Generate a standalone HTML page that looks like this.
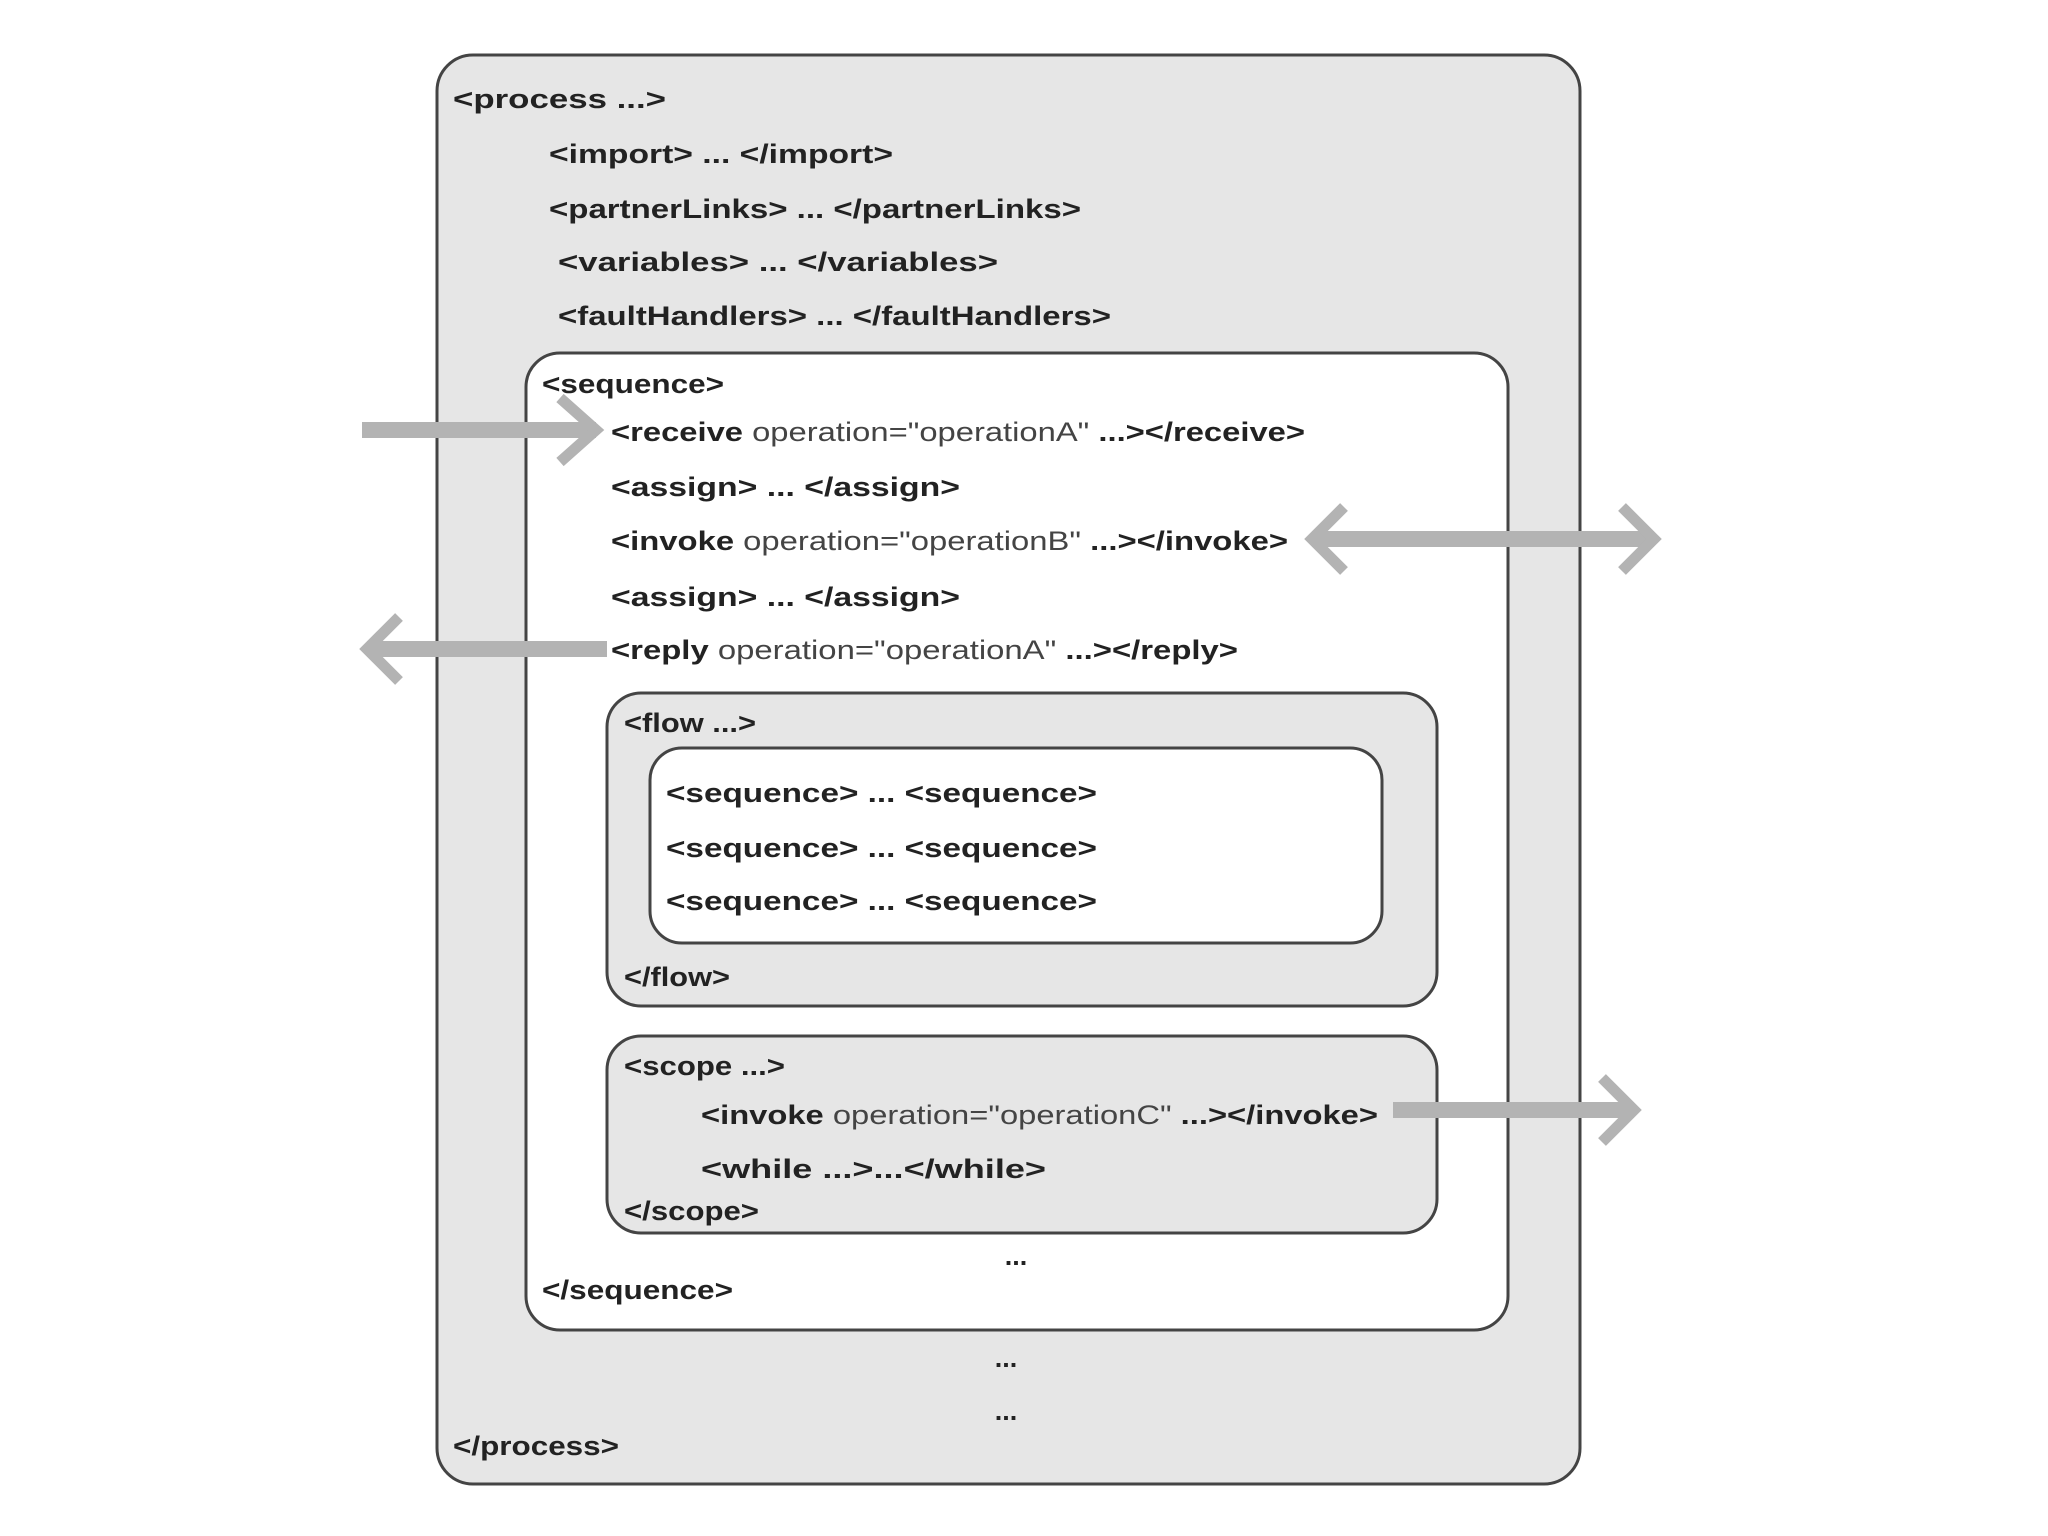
<!DOCTYPE html>
<html><head><meta charset="utf-8"><style>html,body{margin:0;padding:0;background:#fff}svg{display:block}</style></head>
<body>
<svg width="2048" height="1536" viewBox="0 0 2048 1536" xmlns="http://www.w3.org/2000/svg" font-family="Liberation Sans, Arial, sans-serif" font-size="27" font-weight="bold" fill="#222">
<rect x="437" y="55" width="1143" height="1429" rx="36" fill="#e6e6e6" stroke="#444" stroke-width="3"/>
<rect x="526" y="353" width="982" height="977" rx="34" fill="#fff" stroke="#444" stroke-width="3"/>
<rect x="607" y="693" width="830" height="313" rx="34" fill="#e6e6e6" stroke="#444" stroke-width="3"/>
<rect x="650" y="748" width="732" height="195" rx="32" fill="#fff" stroke="#444" stroke-width="3"/>
<rect x="607" y="1036" width="830" height="197" rx="34" fill="#e6e6e6" stroke="#444" stroke-width="3"/>

<g stroke="#b3b3b3" fill="none" stroke-linecap="butt">
<line x1="362" y1="430" x2="596" y2="430" stroke-width="16"/>
<polyline points="560,398 596,430 560,462" stroke-width="11"/>
<line x1="1312" y1="539" x2="1654" y2="539" stroke-width="16"/>
<polyline points="1344,507 1312,539 1344,571" stroke-width="11"/>
<polyline points="1622,507 1654,539 1622,571" stroke-width="11"/>
<line x1="607" y1="649" x2="367" y2="649" stroke-width="16"/>
<polyline points="399,617 367,649 399,681" stroke-width="11"/>
<line x1="1393" y1="1110" x2="1634" y2="1110" stroke-width="16"/>
<polyline points="1602,1078 1634,1110 1602,1142" stroke-width="11"/>
</g>

<g lengthAdjust="spacingAndGlyphs">
<text x="453" y="108" textLength="213" lengthAdjust="spacingAndGlyphs">&lt;process ...&gt;</text>
<text x="549" y="163" textLength="344" lengthAdjust="spacingAndGlyphs">&lt;import&gt; ... &lt;/import&gt;</text>
<text x="549" y="218" textLength="532" lengthAdjust="spacingAndGlyphs">&lt;partnerLinks&gt; ... &lt;/partnerLinks&gt;</text>
<text x="558" y="271" textLength="440" lengthAdjust="spacingAndGlyphs">&lt;variables&gt;  ...  &lt;/variables&gt;</text>
<text x="558" y="325" textLength="553" lengthAdjust="spacingAndGlyphs">&lt;faultHandlers&gt; ... &lt;/faultHandlers&gt;</text>
<text x="542" y="393" textLength="182" lengthAdjust="spacingAndGlyphs">&lt;sequence&gt;</text>
<text x="611" y="441" textLength="694" lengthAdjust="spacingAndGlyphs">&lt;receive <tspan font-weight="normal" fill="#444">operation="operationA"</tspan> ...&gt;&lt;/receive&gt;</text>
<text x="611" y="496" textLength="349" lengthAdjust="spacingAndGlyphs">&lt;assign&gt; ... &lt;/assign&gt;</text>
<text x="611" y="550" textLength="677" lengthAdjust="spacingAndGlyphs">&lt;invoke <tspan font-weight="normal" fill="#444">operation="operationB"</tspan> ...&gt;&lt;/invoke&gt;</text>
<text x="611" y="606" textLength="349" lengthAdjust="spacingAndGlyphs">&lt;assign&gt; ... &lt;/assign&gt;</text>
<text x="611" y="659" textLength="627" lengthAdjust="spacingAndGlyphs">&lt;reply <tspan font-weight="normal" fill="#444">operation="operationA"</tspan> ...&gt;&lt;/reply&gt;</text>
<text x="624" y="732" textLength="132" lengthAdjust="spacingAndGlyphs">&lt;flow ...&gt;</text>
<text x="666" y="802" textLength="431" lengthAdjust="spacingAndGlyphs">&lt;sequence&gt; ... &lt;sequence&gt;</text>
<text x="666" y="857" textLength="431" lengthAdjust="spacingAndGlyphs">&lt;sequence&gt; ... &lt;sequence&gt;</text>
<text x="666" y="910" textLength="431" lengthAdjust="spacingAndGlyphs">&lt;sequence&gt; ... &lt;sequence&gt;</text>
<text x="624" y="986" textLength="106" lengthAdjust="spacingAndGlyphs">&lt;/flow&gt;</text>
<text x="624" y="1075" textLength="161" lengthAdjust="spacingAndGlyphs">&lt;scope ...&gt;</text>
<text x="701" y="1124" textLength="677" lengthAdjust="spacingAndGlyphs">&lt;invoke <tspan font-weight="normal" fill="#444">operation="operationC"</tspan> ...&gt;&lt;/invoke&gt;</text>
<text x="701" y="1178" textLength="345" lengthAdjust="spacingAndGlyphs">&lt;while ...&gt;...&lt;/while&gt;</text>
<text x="624" y="1220" textLength="135" lengthAdjust="spacingAndGlyphs">&lt;/scope&gt;</text>
<text x="1016" y="1265" text-anchor="middle">...</text>
<text x="542" y="1299" textLength="191" lengthAdjust="spacingAndGlyphs">&lt;/sequence&gt;</text>
<text x="1006" y="1367" text-anchor="middle">...</text>
<text x="1006" y="1420" text-anchor="middle">...</text>
<text x="453" y="1455" textLength="166" lengthAdjust="spacingAndGlyphs">&lt;/process&gt;</text>
</g>
</svg>
</body></html>
